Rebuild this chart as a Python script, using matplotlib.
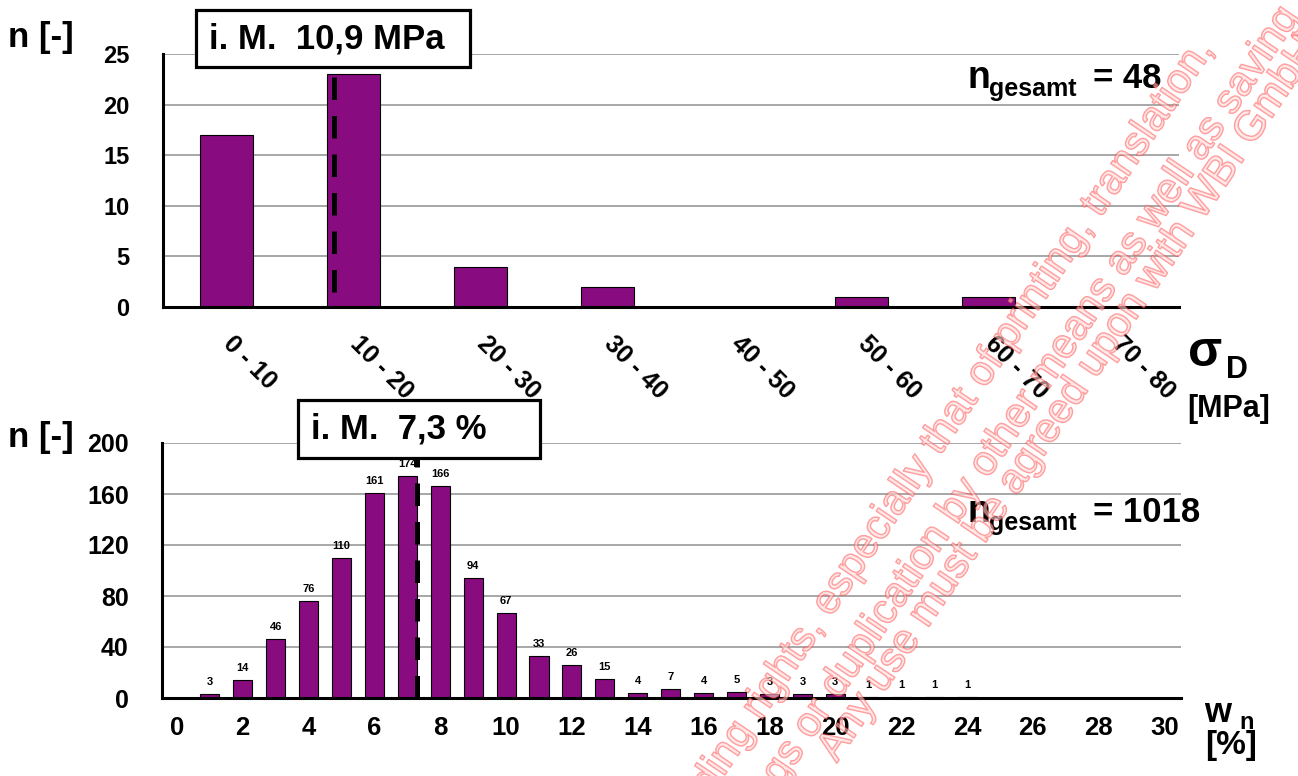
import matplotlib
matplotlib.use("Agg")
import matplotlib.pyplot as plt
from matplotlib.patches import Rectangle
import matplotlib.patheffects as pe

# data
sigma_classes = ["0 - 10", "10 - 20", "20 - 30", "30 - 40", "40 - 50", "50 - 60", "60 - 70", "70 - 80"]
sigma_counts = [17, 23, 4, 2, 0, 1, 1, 0]
sigma_mean_label = "i. M.  10,9 MPa"
sigma_total = 48

wn_values = list(range(1, 25))
wn_counts = [3, 14, 46, 76, 110, 161, 174, 166, 94, 67, 33, 26, 15, 4, 7, 4, 5, 3, 3, 3, 1, 1, 1, 1]
wn_mean = 7.3
wn_mean_label = "i. M.  7,3 %"
wn_total = 1018

watermark = [
    "corresponding rights, especially that of printing, translation,",
    "recordings or duplication by other means as well as saving",
    "Any use must be agreed upon with WBI GmbH",
]

PURPLE = "#880c80"
GRID = "#a0a0a0"

plt.rcParams["font.family"] = ["Liberation Sans", "DejaVu Sans"]
plt.rcParams["font.weight"] = "bold"

fig = plt.figure(figsize=(12.98, 7.76), dpi=100)
W, H = 1298, 776


def fx(px):
    return px / W


def fy(py):
    return 1 - py / H


def style_axes(ax):
    for s in ("top", "right"):
        ax.spines[s].set_visible(False)
    for s in ("left", "bottom"):
        ax.spines[s].set_linewidth(2.2)
        ax.spines[s].set_color("black")
    ax.tick_params(length=0)
    ax.yaxis.grid(True, color=GRID, linewidth=1.3)
    ax.set_axisbelow(True)


def label_box(x0, y0, x1, y1, text, size):
    fig.patches.append(Rectangle((fx(x0), fy(y1)), fx(x1) - fx(x0), fy(y0) - fy(y1),
                                 transform=fig.transFigure, facecolor="white",
                                 edgecolor="black", linewidth=2.3, zorder=10))
    fig.text(fx(x0 + 13), fy((y0 + y1) / 2), text, fontsize=size, ha="left", va="center", zorder=11)


def n_total(x, y, total):
    fig.text(fx(x), fy(y), "n", fontsize=27, va="baseline")
    fig.text(fx(x + 21), fy(y + 8), "gesamt", fontsize=18, va="baseline")
    fig.text(fx(x + 125), fy(y), f"= {total}", fontsize=25, va="baseline")


# ---- top panel: sigma_D
ax1 = fig.add_axes([fx(163), fy(307), fx(1179) - fx(163), fy(54) - fy(307)])
style_axes(ax1)
xs = list(range(len(sigma_classes)))
ax1.bar(xs, sigma_counts, width=0.41, color=PURPLE, edgecolor="black", linewidth=0.8)
ax1.set_xlim(-0.5, len(sigma_classes) - 0.5)
ax1.set_ylim(0, 25)
ax1.set_yticks(range(0, 26, 5))
ax1.set_xticks(xs)
ax1.set_xticklabels(sigma_classes, rotation=-45, ha="left", va="center",
                    rotation_mode="anchor", fontsize=18)
ax1.tick_params(axis="x", pad=24)
ax1.tick_params(axis="y", pad=24, labelsize=17)
ax1.vlines(0.85, 1.5, 23, colors="black", linewidth=3.6, linestyles=(0, (4.5, 3.2)), zorder=3)

fig.text(fx(8), fy(37), "n [-]", fontsize=25, va="center", ha="left")
label_box(196, 10, 470, 67, sigma_mean_label, 25)
n_total(968, 88, sigma_total)
fig.text(fx(1188), fy(366), "σ", fontsize=36, va="baseline")
fig.text(fx(1226), fy(378), "D", fontsize=22, va="baseline")
fig.text(fx(1187), fy(417), "[MPa]", fontsize=22, va="baseline")

# ---- bottom panel: w_n
ax2 = fig.add_axes([fx(162), fy(698), fx(1181) - fx(162), fy(443) - fy(698)])
style_axes(ax2)
ax2.bar(wn_values, wn_counts, width=0.58, color=PURPLE, edgecolor="black", linewidth=0.8)
for x, c in zip(wn_values, wn_counts):
    ax2.annotate(str(c), (x, c), xytext=(0, 5), textcoords="offset points",
                 ha="center", va="bottom", fontsize=8)
ax2.set_xlim(-0.45, 30.5)
ax2.set_ylim(0, 200)
ax2.set_yticks(range(0, 201, 40))
ax2.set_xticks(range(0, 31, 2))
ax2.tick_params(axis="x", pad=13, labelsize=18.5)
ax2.tick_params(axis="y", pad=24, labelsize=18)
ax2.vlines(wn_mean, 0, 195, colors="black", linewidth=3.6, linestyles=(0, (4.5, 3.2)), zorder=3)

fig.text(fx(8), fy(438), "n [-]", fontsize=25, va="center", ha="left")
label_box(298, 400, 540, 458, wn_mean_label, 25)
n_total(968, 522, wn_total)
fig.text(fx(1204), fy(722), "w", fontsize=25, va="baseline")
fig.text(fx(1239), fy(729), "n", fontsize=17, va="baseline")
fig.text(fx(1205), fy(754), "[%]", fontsize=24, va="baseline")

# ---- watermark (diagonal, outlined red)
wm_ends = [(1204, 45), (1290, 12), (1310, 42)]
for txt, (px, py) in zip(watermark, wm_ends):
    fig.text(fx(px), fy(py), txt, fontsize=30, fontweight="normal", color=(1, 0.86, 0.86, 0.35),
             rotation=56, rotation_mode="anchor", ha="right", va="center", zorder=20,
             path_effects=[pe.withStroke(linewidth=1.1, foreground=(1, 0.2, 0.2, 0.5))])

fig.savefig("out.png", dpi=100)
